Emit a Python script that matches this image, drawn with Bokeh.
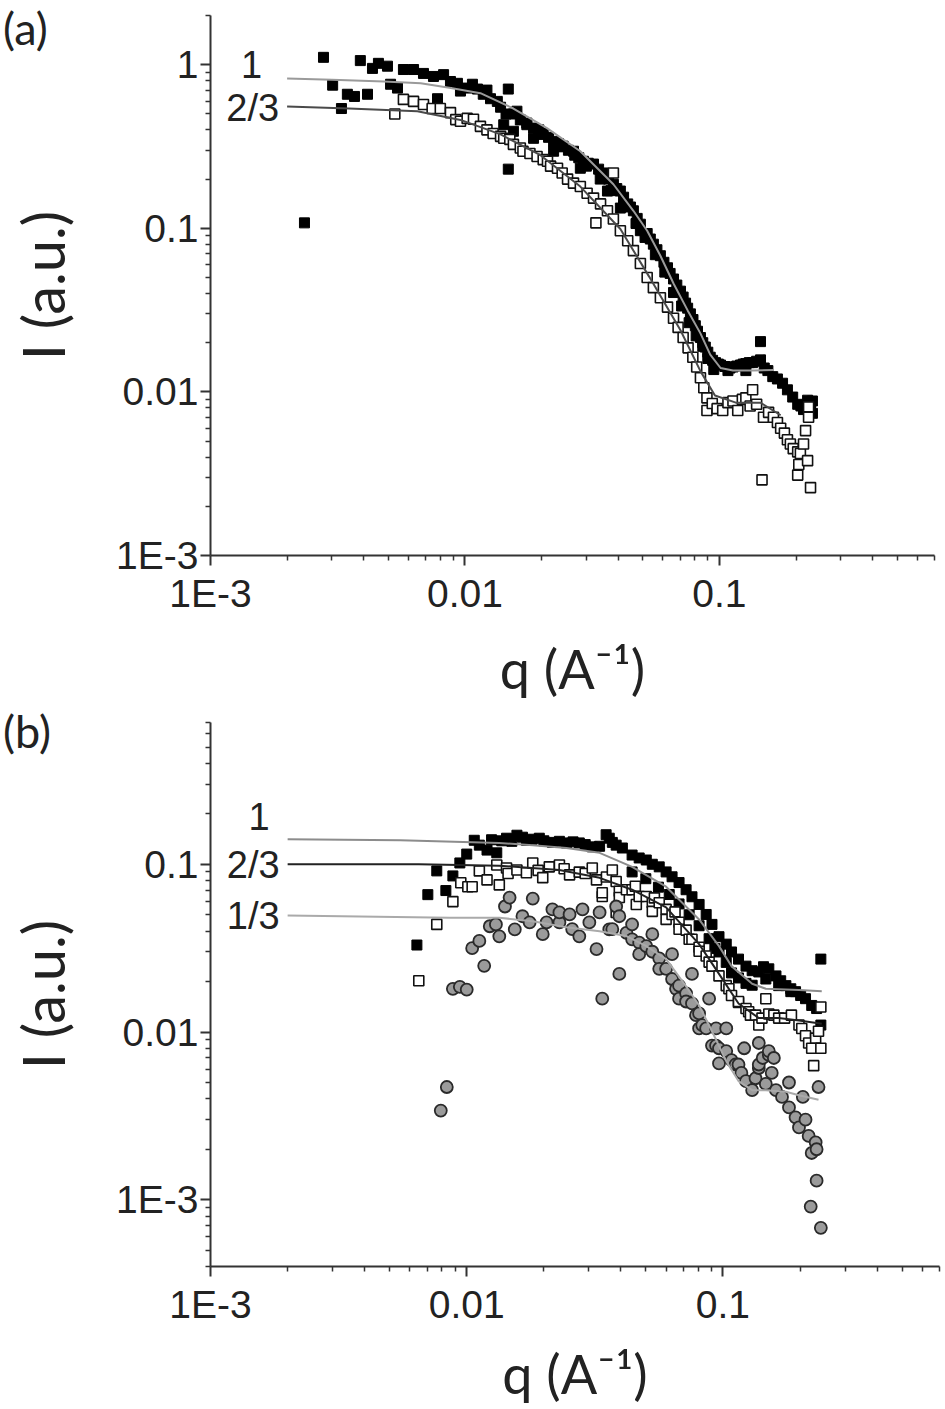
from bokeh.plotting import figure
from bokeh.models import Range1d, FixedTicker, Label, Div
from bokeh.layouts import column
from bokeh.embed import file_html
from bokeh.resources import INLINE

# ---------------- tick definitions ----------------
X_MAJOR = [0.001, 0.01, 0.1]
X_LABELS = ["1E-3", "0.01", "0.1"]
X_MINOR = [0.002, 0.003, 0.004, 0.005, 0.006, 0.007, 0.008, 0.009,
           0.02, 0.03, 0.04, 0.05, 0.06, 0.07, 0.08, 0.09,
           0.2, 0.3, 0.4, 0.5, 0.6, 0.7]
YA_MAJOR = [0.001, 0.01, 0.1, 1.0]
YA_LABELS = ["1E-3", "0.01", "0.1", "1"]
YA_MINOR = [0.002, 0.003, 0.004, 0.005, 0.006, 0.007, 0.008, 0.009,
            0.02, 0.03, 0.04, 0.05, 0.06, 0.07, 0.08, 0.09,
            0.2, 0.3, 0.4, 0.5, 0.6, 0.7, 0.8, 0.9, 2.0]
YB_MAJOR = [0.001, 0.01, 0.1]
YB_LABELS = ["1E-3", "0.01", "0.1"]
YB_MINOR = [0.0004, 0.0005, 0.0006, 0.0007, 0.0008, 0.0009,
            0.002, 0.003, 0.004, 0.005, 0.006, 0.007, 0.008, 0.009,
            0.02, 0.03, 0.04, 0.05, 0.06, 0.07, 0.08, 0.09,
            0.2, 0.3, 0.4, 0.5, 0.6, 0.7]

# ---------------- panel (a) data: (q, I) ----------------
a_series_1 = [
    (0.00234, 0.108), (0.00278, 1.11), (0.00302, 0.75), (0.00327, 0.54), (0.00345, 0.66),
    (0.00368, 0.64), (0.00388, 1.06), (0.00414, 0.66), (0.00433, 0.95), (0.00457, 1.02),
    (0.00496, 0.98), (0.0051, 0.76), (0.00543, 0.72), (0.00573, 0.935), (0.00628, 0.935),
    (0.00687, 0.885), (0.00752, 0.848), (0.0078, 0.62), (0.00824, 0.87), (0.00877, 0.79),
    (0.00934, 0.77), (0.0096, 0.69), (0.0102, 0.72), (0.0107, 0.76), (0.0112, 0.71),
    (0.0118, 0.66), (0.0122, 0.70), (0.0126, 0.62), (0.0134, 0.597), (0.0138, 0.55),
    (0.0142, 0.43), (0.0145, 0.50), (0.0148, 0.71), (0.0148, 0.23), (0.0155, 0.50),
    (0.0155, 0.392), (0.0160, 0.52), (0.0165, 0.46), (0.0175, 0.44), (0.0175, 0.43),
    (0.0186, 0.41), (0.0186, 0.355), (0.0195, 0.40), (0.0200, 0.38), (0.0203, 0.375),
    (0.0213, 0.36), (0.0223, 0.34), (0.0223, 0.296), (0.0233, 0.33), (0.0240, 0.315),
    (0.0243, 0.318), (0.0255, 0.30), (0.0267, 0.296), (0.0270, 0.28), (0.0280, 0.27),
    (0.0284, 0.233), (0.0292, 0.257), (0.0300, 0.24), (0.0305, 0.25), (0.0320, 0.247),
    (0.0335, 0.23), (0.0340, 0.20), (0.0350, 0.218), (0.0363, 0.169), (0.0367, 0.20),
    (0.0375, 0.17), (0.0383, 0.186), (0.0395, 0.175), (0.0408, 0.169), (0.0408, 0.133),
    (0.0420, 0.155), (0.0420, 0.136), (0.0436, 0.141), (0.0447, 0.135), (0.0459, 0.128),
    (0.0470, 0.107), (0.0475, 0.115), (0.0489, 0.106), (0.0489, 0.0967), (0.0510, 0.088),
    (0.0520, 0.093), (0.0535, 0.086), (0.0550, 0.080), (0.0560, 0.069), (0.0568, 0.074),
    (0.0586, 0.068), (0.0605, 0.062), (0.0610, 0.054), (0.0625, 0.0574), (0.0640, 0.053),
    (0.0660, 0.049), (0.0660, 0.0405), (0.0680, 0.045), (0.0703, 0.0413), (0.0710, 0.0335),
    (0.0720, 0.038), (0.0736, 0.0349), (0.0750, 0.0325), (0.0760, 0.0265), (0.0769, 0.0300),
    (0.0787, 0.0277), (0.0804, 0.0254), (0.0810, 0.022), (0.0820, 0.0235), (0.0842, 0.0215),
    (0.0860, 0.0200), (0.0860, 0.019), (0.0880, 0.0188), (0.0900, 0.0175), (0.0900, 0.016),
    (0.0920, 0.0163), (0.0940, 0.0156), (0.0950, 0.0137), (0.0965, 0.0151), (0.0990, 0.0148),
    (0.101, 0.0146), (0.105, 0.0143), (0.108, 0.0142), (0.108, 0.0135), (0.110, 0.0140),
    (0.113, 0.0142), (0.117, 0.0144), (0.121, 0.0146), (0.124, 0.0148), (0.127, 0.0149),
    (0.127, 0.0135), (0.131, 0.0151), (0.135, 0.0151), (0.140, 0.0154), (0.145, 0.0157),
    (0.145, 0.0203), (0.150, 0.0140), (0.155, 0.0135), (0.162, 0.0124), (0.169, 0.0120),
    (0.177, 0.0113), (0.185, 0.0103), (0.194, 0.0093), (0.203, 0.0084), (0.209, 0.0082),
    (0.214, 0.0078), (0.222, 0.0089), (0.228, 0.0081), (0.232, 0.0074), (0.232, 0.0088),
]
a_series_23 = [
    (0.0053, 0.50), (0.00573, 0.614), (0.00628, 0.597), (0.00687, 0.572), (0.00743, 0.54),
    (0.0080, 0.54), (0.00877, 0.51), (0.0092, 0.462), (0.0096, 0.451), (0.0102, 0.47),
    (0.0108, 0.464), (0.0115, 0.42), (0.0122, 0.40), (0.0129, 0.38), (0.0138, 0.365),
    (0.0142, 0.355), (0.0150, 0.35), (0.0155, 0.326), (0.0165, 0.31), (0.0169, 0.296),
    (0.0180, 0.287), (0.0192, 0.275), (0.0203, 0.263), (0.0211, 0.257), (0.0217, 0.24),
    (0.0231, 0.233), (0.0241, 0.218), (0.0253, 0.20), (0.0267, 0.189), (0.0284, 0.18),
    (0.0302, 0.164), (0.0320, 0.153), (0.0327, 0.108), (0.0341, 0.141), (0.0363, 0.128),
    (0.0383, 0.218), (0.0383, 0.114), (0.0408, 0.0967), (0.0436, 0.084), (0.0459, 0.0731),
    (0.0489, 0.061), (0.0520, 0.050), (0.0550, 0.0434), (0.0586, 0.0376), (0.0625, 0.033),
    (0.0660, 0.0282), (0.0688, 0.0248), (0.0720, 0.0215), (0.0753, 0.0186), (0.0786, 0.0163),
    (0.0814, 0.0142), (0.0842, 0.0122), (0.0868, 0.0106), (0.0893, 0.0092), (0.0893, 0.0077),
    (0.0937, 0.0085), (0.0979, 0.0079), (0.103, 0.0077), (0.108, 0.0086), (0.113, 0.0088),
    (0.118, 0.0077), (0.123, 0.0090), (0.127, 0.0092), (0.132, 0.0082), (0.135, 0.0103),
    (0.140, 0.0084), (0.147, 0.0029), (0.149, 0.0070), (0.156, 0.0075), (0.163, 0.0070),
    (0.169, 0.0065), (0.174, 0.0060), (0.180, 0.0056), (0.185, 0.0051), (0.190, 0.0048),
    (0.195, 0.0045), (0.203, 0.0043), (0.203, 0.0031), (0.205, 0.0036), (0.208, 0.0042),
    (0.214, 0.0048), (0.218, 0.0058), (0.222, 0.0038), (0.224, 0.0081), (0.224, 0.0070),
    (0.228, 0.0026),
]
a_fit_1 = [
    (0.002, 0.825), (0.003, 0.81), (0.0048, 0.79), (0.0067, 0.77), (0.0088, 0.72),
    (0.0115, 0.67), (0.0155, 0.54), (0.021, 0.41), (0.0284, 0.296), (0.0383, 0.186),
    (0.0459, 0.128), (0.052, 0.0967), (0.0586, 0.068), (0.066, 0.046), (0.075, 0.0315),
    (0.0842, 0.0228), (0.092, 0.0169), (0.101, 0.0140), (0.113, 0.0135), (0.135, 0.0135),
    (0.163, 0.0136),
]
a_fit_23 = [
    (0.002, 0.556), (0.0035, 0.54), (0.0065, 0.52), (0.0096, 0.46), (0.0138, 0.375),
    (0.0198, 0.28), (0.0284, 0.18), (0.0408, 0.099), (0.053, 0.0505), (0.0703, 0.0238),
    (0.0842, 0.0134), (0.096, 0.0095), (0.116, 0.0086), (0.145, 0.0086), (0.174, 0.0072),
]

# ---------------- panel (b) data: (q, I) ----------------
b_series_1 = [
    (0.00639, 0.033), (0.00705, 0.0659), (0.00764, 0.0913), (0.00829, 0.0697), (0.00883, 0.0852),
    (0.0094, 0.1018), (0.0100, 0.115), (0.0107, 0.139), (0.0112, 0.130), (0.0120, 0.1215),
    (0.0125, 0.140), (0.0131, 0.117), (0.0137, 0.138), (0.0143, 0.143), (0.0150, 0.137),
    (0.0157, 0.149), (0.0165, 0.145), (0.0171, 0.139), (0.0180, 0.141), (0.0192, 0.143),
    (0.0200, 0.138), (0.0216, 0.135), (0.0230, 0.137), (0.0245, 0.134), (0.0260, 0.136),
    (0.0275, 0.134), (0.0290, 0.131), (0.0309, 0.127), (0.0330, 0.128), (0.0350, 0.150),
    (0.0360, 0.143), (0.0370, 0.135), (0.0383, 0.130), (0.0405, 0.125), (0.0442, 0.1135),
    (0.0442, 0.090), (0.0471, 0.109), (0.0500, 0.082), (0.0502, 0.106), (0.0530, 0.100),
    (0.0560, 0.073), (0.0564, 0.0965), (0.0600, 0.090), (0.0617, 0.066), (0.0633, 0.0842),
    (0.0674, 0.0778), (0.0674, 0.058), (0.0718, 0.0705), (0.0738, 0.050), (0.0757, 0.064),
    (0.0807, 0.0576), (0.0807, 0.043), (0.0860, 0.0502), (0.0883, 0.036), (0.0906, 0.0438),
    (0.0930, 0.0315), (0.0965, 0.037), (0.0965, 0.030), (0.103, 0.0334), (0.103, 0.026),
    (0.108, 0.030), (0.108, 0.0225), (0.115, 0.0272), (0.115, 0.021), (0.123, 0.0247),
    (0.123, 0.0195), (0.130, 0.0232), (0.130, 0.019), (0.138, 0.0228), (0.144, 0.0245),
    (0.147, 0.0207), (0.151, 0.0238), (0.161, 0.0216), (0.165, 0.0189), (0.168, 0.0202),
    (0.176, 0.0189), (0.184, 0.0181), (0.184, 0.0174), (0.192, 0.0174), (0.201, 0.0165),
    (0.210, 0.0158), (0.222, 0.0144), (0.232, 0.0138), (0.241, 0.0272), (0.241, 0.011),
]
b_series_23 = [
    (0.0065, 0.0202), (0.00764, 0.0438), (0.00883, 0.0599), (0.00948, 0.0776), (0.0101, 0.0735),
    (0.0105, 0.0735), (0.0112, 0.0913), (0.0120, 0.0807), (0.0131, 0.099), (0.0134, 0.0754),
    (0.0143, 0.095), (0.0145, 0.088), (0.0157, 0.0925), (0.0171, 0.089), (0.0181, 0.1018),
    (0.0190, 0.092), (0.0198, 0.0832), (0.0210, 0.0965), (0.0230, 0.099), (0.0240, 0.094),
    (0.0252, 0.0865), (0.0275, 0.0898), (0.0290, 0.088), (0.0309, 0.095), (0.0321, 0.0807),
    (0.0338, 0.0642), (0.0338, 0.0677), (0.0351, 0.084), (0.0370, 0.0925), (0.0383, 0.079),
    (0.0383, 0.0516), (0.0394, 0.069), (0.0394, 0.0633), (0.0420, 0.0705), (0.0442, 0.0705),
    (0.0455, 0.074), (0.0459, 0.0576), (0.0471, 0.0642), (0.0502, 0.0642), (0.0530, 0.059),
    (0.0530, 0.0524), (0.0540, 0.063), (0.0564, 0.059), (0.0600, 0.0538), (0.0600, 0.0469),
    (0.0633, 0.0502), (0.0650, 0.052), (0.0674, 0.0451), (0.0674, 0.041), (0.0718, 0.0405),
    (0.0738, 0.0357), (0.0757, 0.0357), (0.0807, 0.032), (0.0807, 0.0303), (0.0860, 0.0284),
    (0.0883, 0.0261), (0.0906, 0.0247), (0.0965, 0.0216), (0.103, 0.0189), (0.1055, 0.0181),
    (0.108, 0.0165), (0.115, 0.015), (0.115, 0.0152), (0.123, 0.0138), (0.126, 0.0132),
    (0.128, 0.0126), (0.134, 0.0126), (0.138, 0.011), (0.142, 0.0121), (0.147, 0.0158),
    (0.151, 0.0128), (0.158, 0.0126), (0.165, 0.0121), (0.174, 0.0121), (0.185, 0.0126),
    (0.198, 0.011), (0.203, 0.0105), (0.210, 0.0095), (0.216, 0.0086), (0.222, 0.008),
    (0.226, 0.0063), (0.230, 0.0092), (0.236, 0.0101), (0.241, 0.0141), (0.241, 0.008),
]
b_series_13 = [
    (0.00792, 0.0034), (0.00836, 0.0047), (0.00883, 0.0181), (0.0094, 0.0186), (0.0100, 0.0179),
    (0.0105, 0.0316), (0.0112, 0.0349), (0.0117, 0.0248), (0.0123, 0.0427), (0.0130, 0.0438),
    (0.0134, 0.0372), (0.0141, 0.056), (0.0147, 0.0633), (0.0154, 0.0409), (0.0165, 0.049),
    (0.0176, 0.045), (0.0181, 0.0624), (0.0198, 0.0383), (0.0205, 0.045), (0.0216, 0.0538),
    (0.0230, 0.045), (0.0230, 0.0516), (0.0252, 0.0502), (0.0258, 0.041), (0.0275, 0.0372),
    (0.0283, 0.0538), (0.0301, 0.045), (0.0321, 0.0312), (0.0330, 0.0516), (0.0338, 0.0158),
    (0.0360, 0.0409), (0.0370, 0.041), (0.0383, 0.056), (0.0394, 0.0222), (0.0394, 0.049),
    (0.0420, 0.039), (0.0442, 0.0357), (0.0442, 0.0438), (0.0471, 0.0341), (0.0471, 0.0291),
    (0.0502, 0.0325), (0.0530, 0.0301), (0.0530, 0.0383), (0.0564, 0.0275), (0.0564, 0.0238),
    (0.0600, 0.0238), (0.0633, 0.0207), (0.0633, 0.0291), (0.0656, 0.0181), (0.0674, 0.0189),
    (0.0674, 0.0158), (0.0718, 0.017), (0.0718, 0.0152), (0.0757, 0.0148), (0.0757, 0.0222),
    (0.0785, 0.0126), (0.0807, 0.0129), (0.0807, 0.0105), (0.0830, 0.011), (0.0860, 0.0105),
    (0.0883, 0.0158), (0.0906, 0.0083), (0.0940, 0.0083), (0.0940, 0.0105), (0.0965, 0.0080),
    (0.0965, 0.0065), (0.103, 0.0077), (0.103, 0.0105), (0.108, 0.0068), (0.112, 0.0064),
    (0.115, 0.0064), (0.118, 0.0057), (0.121, 0.0080), (0.123, 0.0051), (0.130, 0.0045),
    (0.134, 0.0053), (0.138, 0.0061), (0.138, 0.0064), (0.138, 0.0086), (0.143, 0.0070),
    (0.147, 0.0049), (0.151, 0.0073), (0.151, 0.0077), (0.155, 0.0057), (0.158, 0.0070),
    (0.161, 0.0045), (0.170, 0.0041), (0.181, 0.00355), (0.181, 0.0050), (0.192, 0.0031),
    (0.198, 0.0027), (0.205, 0.0041), (0.210, 0.0030), (0.216, 0.0024), (0.222, 0.0019),
    (0.230, 0.0022), (0.232, 0.0020), (0.232, 0.0013), (0.220, 0.00091), (0.236, 0.0047),
    (0.241, 0.00068),
]
b_fit_1 = [
    (0.002, 0.141), (0.0055, 0.139), (0.0134, 0.134), (0.0181, 0.130), (0.0245, 0.125),
    (0.033, 0.117), (0.0442, 0.0965), (0.060, 0.0735), (0.0807, 0.0469), (0.0965, 0.0325),
    (0.108, 0.0247), (0.130, 0.0194), (0.147, 0.0181), (0.198, 0.0178), (0.243, 0.0175),
]
b_fit_23 = [
    (0.002, 0.1), (0.0065, 0.1), (0.0134, 0.098), (0.023, 0.0925), (0.033, 0.083),
    (0.0442, 0.0705), (0.060, 0.0553), (0.0807, 0.0334), (0.0965, 0.0222), (0.115, 0.0148),
    (0.138, 0.0121), (0.165, 0.0121), (0.198, 0.0117), (0.243, 0.0112),
]
b_fit_13 = [
    (0.002, 0.0495), (0.0086, 0.048), (0.0134, 0.048), (0.0181, 0.0457), (0.0245, 0.0421),
    (0.033, 0.0399), (0.042, 0.0373), (0.0502, 0.0325), (0.060, 0.0272), (0.0718, 0.0187),
    (0.0807, 0.0144), (0.0906, 0.0101), (0.103, 0.0067), (0.115, 0.0051), (0.130, 0.0045),
    (0.147, 0.0045), (0.176, 0.0044), (0.198, 0.0042), (0.236, 0.00395),
]

# curve labels: text, y value (at line start q = 0.002), pixel offset to the left
a_curve_labels = [("1", 1.0, -25), ("2/3", 0.545, -8)]
b_curve_labels = [("1", 0.193, -18), ("2/3", 0.099, -8), ("1/3", 0.049, -8)]

TICK_FONT = "Liberation Sans"
LABEL_FONT = "Lato"


def xs(pts):
    return [p[0] for p in pts]


def ys(pts):
    return [p[1] for p in pts]


def make_panel(width, height, y_range, border_top, border_bottom, border_right,
               y_major, y_labels, y_minor, xlabel_standoff):
    p = figure(width=width, height=height, x_axis_type="log", y_axis_type="log",
               x_range=Range1d(0.001, 0.7), y_range=Range1d(*y_range),
               output_backend="svg", toolbar_location=None,
               min_border_left=210, min_border_right=border_right,
               min_border_top=border_top, min_border_bottom=border_bottom)
    p.outline_line_color = None
    p.xgrid.visible = False
    p.ygrid.visible = False
    p.background_fill_color = "white"
    p.border_fill_color = None

    p.xaxis.ticker = FixedTicker(ticks=X_MAJOR, minor_ticks=X_MINOR)
    p.xaxis.major_label_overrides = dict(zip(X_MAJOR, X_LABELS))
    p.yaxis.ticker = FixedTicker(ticks=y_major, minor_ticks=y_minor)
    p.yaxis.major_label_overrides = dict(zip(y_major, y_labels))

    for ax in (p.xaxis, p.yaxis):
        ax.axis_line_width = 2
        ax.axis_line_color = "#333333"
        ax.major_tick_line_width = 2
        ax.major_tick_line_color = "#333333"
        ax.minor_tick_line_width = 1.5
        ax.minor_tick_line_color = "#333333"
        ax.major_tick_in = 0
        ax.major_tick_out = 10
        ax.minor_tick_in = 0
        ax.minor_tick_out = 5
        ax.major_label_text_font = TICK_FONT
        ax.major_label_text_font_size = "39px"
        ax.major_label_text_color = "#222222"
        ax.axis_label_text_font = LABEL_FONT
        ax.axis_label_text_font_style = "normal"
        ax.axis_label_text_color = "#222222"

    p.xaxis.major_label_standoff = 6
    p.yaxis.major_label_standoff = 2
    p.xaxis.axis_label_text_font_size = "54px"
    p.yaxis.axis_label_text_font_size = "58px"
    p.xaxis.axis_label = "q (A\u207b\u00b9)"
    p.yaxis.axis_label = "I (a.u.)"
    p.xaxis.axis_label_standoff = xlabel_standoff
    p.yaxis.axis_label_standoff = 36
    return p


def add_curve_labels(p, labels):
    for txt, yv, off in labels:
        p.add_layout(Label(x=0.002, y=yv, x_offset=off, text=txt, text_font=TICK_FONT,
                           text_font_size="38px", text_color="#222222",
                           text_align="right", text_baseline="middle"))


def panel_tag(text):
    return Div(text=text, width=80, height=56, margin=(0, 0, -56, 3),
               styles={"font-family": "Lato", "font-size": "45px", "line-height": "56px",
                       "color": "#222222", "white-space": "nowrap"})


# ---------------- panel (a) ----------------
pa = make_panel(940, 703, (0.001, 2.0), 15, 148, 6, YA_MAJOR, YA_LABELS, YA_MINOR, 18)
pa.scatter(xs(a_series_1), ys(a_series_1), marker="square", size=10,
           fill_color="black", line_color="black")
pa.scatter(xs(a_series_23), ys(a_series_23), marker="square", size=10,
           fill_color="white", line_color="#111111", line_width=1.6)
pa.line(xs(a_fit_1), ys(a_fit_1), line_color="#9a9a9a", line_width=2)
pa.line(xs(a_fit_23), ys(a_fit_23), line_color="#4a4a4a", line_width=2)
add_curve_labels(pa, a_curve_labels)

# ---------------- panel (b) ----------------
pb = make_panel(945, 705, (0.0004, 0.7), 19, 136, 4, YB_MAJOR, YB_LABELS, YB_MINOR, 12)
pb.scatter(xs(b_series_1), ys(b_series_1), marker="square", size=10,
           fill_color="black", line_color="black")
pb.scatter(xs(b_series_23), ys(b_series_23), marker="square", size=10,
           fill_color="white", line_color="#111111", line_width=1.6)
pb.scatter(xs(b_series_13), ys(b_series_13), marker="circle", size=12,
           fill_color="#9b9b9b", line_color="#2a2a2a", line_width=1.8)
pb.line(xs(b_fit_1), ys(b_fit_1), line_color="#8c8c8c", line_width=2)
pb.line(xs(b_fit_23), ys(b_fit_23), line_color="#222222", line_width=2)
pb.line(xs(b_fit_13), ys(b_fit_13), line_color="#aaaaaa", line_width=2)
add_curve_labels(pb, b_curve_labels)

layout = column(panel_tag("(a)"), pa, panel_tag("(b)"), pb)
open("out.html", "w").write(file_html(layout, INLINE))
